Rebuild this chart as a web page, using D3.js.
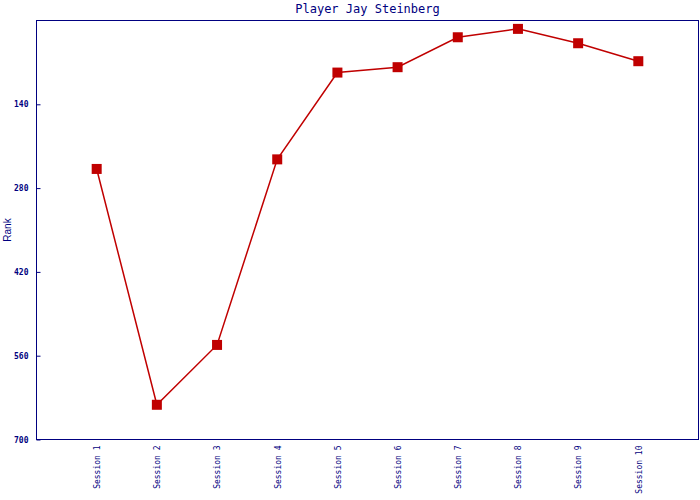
<!DOCTYPE html>
<html><head><meta charset="utf-8">
<script src="https://cdn.jsdelivr.net/npm/d3@7"></script>
<style>body{margin:0;background:#fff}</style>
</head><body>
<svg id="c" width="700" height="500"></svg>
<script>
const categories = ["Session 1","Session 2","Session 3","Session 4","Session 5","Session 6","Session 7","Session 8","Session 9","Session 10"];
const ranks = [248, 642, 542, 232, 87, 78, 28, 14, 38, 68];
const yTicks = [140, 280, 420, 560, 700];
const title = "Player Jay Steinberg";

const svg = d3.select("#c");
const L = 36.5, T = 20.5, R = 698.5, B = 439.5;
const navy = "#000080", red = "#c00000";

const x = d3.scalePoint().domain(categories).range([L, R]).padding(1);
const y = d3.scaleLinear().domain([0, 700]).range([T, B]);

svg.append("rect").attr("x", L).attr("y", T).attr("width", R - L).attr("height", B - T)
  .attr("fill", "none").attr("stroke", navy).attr("stroke-width", 1);

const ya = svg.append("g").attr("transform", `translate(${L},0)`)
  .call(d3.axisLeft(y).tickValues(yTicks).tickSize(-4).tickPadding(8));
ya.select(".domain").remove();
ya.selectAll("line").attr("stroke", navy);
ya.selectAll("text").attr("fill", navy).attr("font-family", "DejaVu Sans Mono").attr("font-size", 8).attr("font-weight", "bold");

const xa = svg.append("g").attr("transform", `translate(0,${B})`)
  .call(d3.axisBottom(x).tickSize(0));
xa.select(".domain").remove();
xa.selectAll("text").attr("fill", navy).attr("font-family", "DejaVu Sans Mono").attr("font-size", 8)
  .attr("text-anchor", "end").attr("dy", "0.35em")
  .attr("transform", "rotate(-90)").attr("x", -6).attr("y", 0);

const line = d3.line().x((d, i) => x(categories[i])).y(d => y(d));
svg.append("path").datum(ranks).attr("d", line).attr("fill", "none").attr("stroke", red).attr("stroke-width", 1.5);

svg.selectAll("rect.m").data(ranks).enter().append("rect").attr("class", "m")
  .attr("x", (d, i) => x(categories[i]) - 5).attr("y", d => y(d) - 5)
  .attr("width", 10).attr("height", 10).attr("fill", red);

svg.append("text").attr("x", (L + R) / 2).attr("y", 13).attr("text-anchor", "middle")
  .attr("font-family", "DejaVu Sans Mono").attr("font-size", 12).attr("fill", navy).text(title);

svg.append("text").attr("transform", `translate(11,${(T + B) / 2}) rotate(-90)`).attr("text-anchor", "middle")
  .attr("font-family", "Liberation Sans").attr("font-size", 10).attr("fill", navy).text("Rank");
</script>
</body></html>
